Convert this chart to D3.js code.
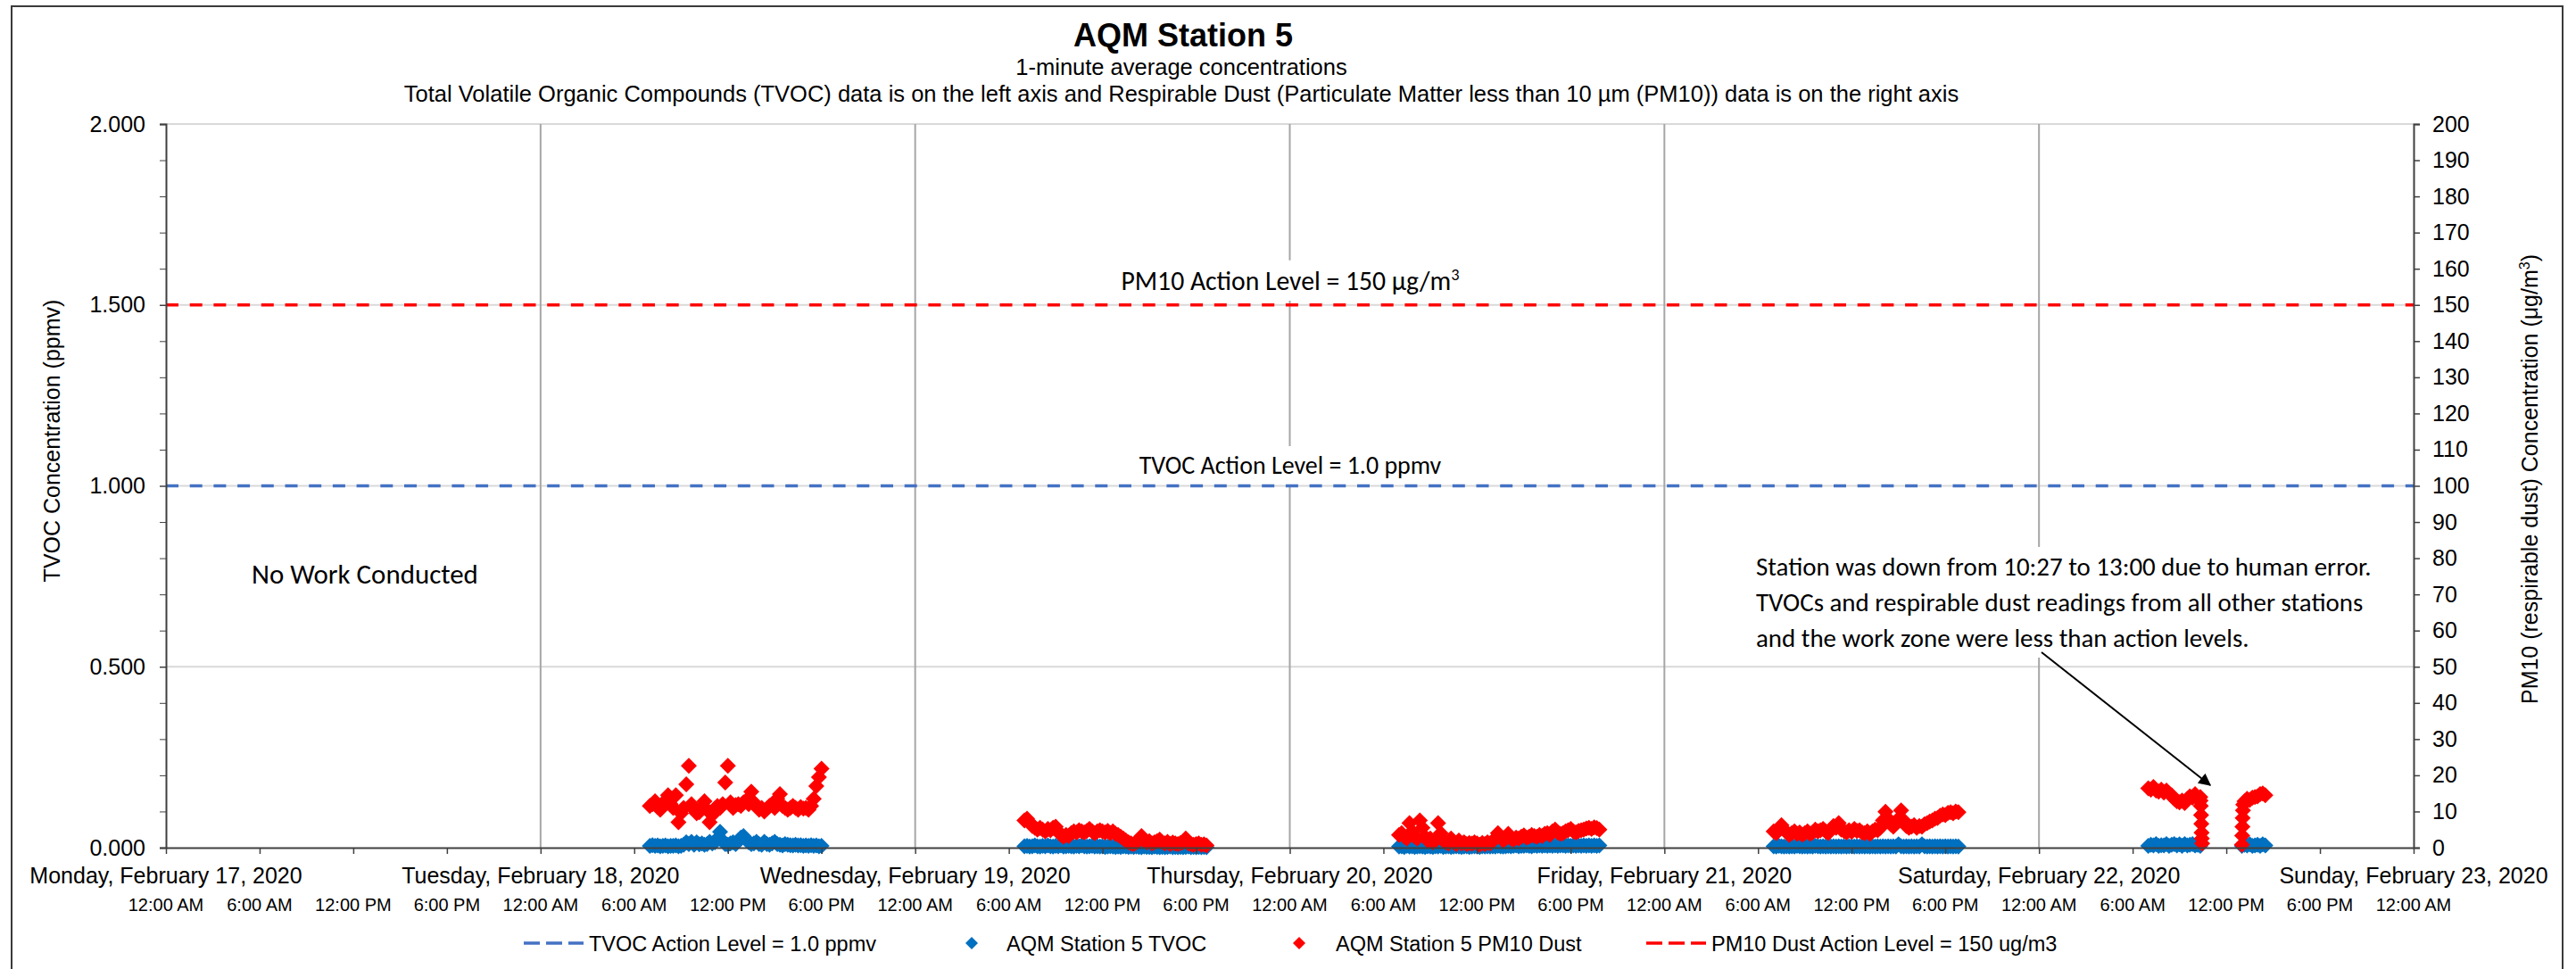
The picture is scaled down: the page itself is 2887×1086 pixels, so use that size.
<!DOCTYPE html>
<html><head><meta charset="utf-8">
<script src="https://cdn.jsdelivr.net/npm/d3@7"></script>
<style>
body{margin:0;background:#fff}
svg{display:block}
text{font-family:"Liberation Sans",Arial,sans-serif;fill:#000}
.note{font-family:Carlito,Calibri,Lato,"Open Sans",sans-serif}
</style>
</head><body>
<svg id="c" width="2887" height="1086"></svg>
<script>
// ---------------- DATA ----------------
const chartTitle = "AQM Station 5";
const subTitle1 = "1-minute average concentrations";
const subTitle2 = "Total Volatile Organic Compounds (TVOC) data is on the left axis and Respirable Dust (Particulate Matter less than 10 µm (PM10)) data is on the right axis";
const xStart = "2020-02-17T00:00", xEnd = "2020-02-23T00:00";
const dayLabels = ["Monday, February 17, 2020","Tuesday, February 18, 2020","Wednesday, February 19, 2020","Thursday, February 20, 2020","Friday, February 21, 2020","Saturday, February 22, 2020","Sunday, February 23, 2020"];
const hourLabels = ["12:00 AM","6:00 AM","12:00 PM","6:00 PM"];
const leftTicks = [0,0.5,1.0,1.5,2.0];
const leftMinorTicks = [0.1,0.2,0.3,0.4,0.6,0.7,0.8,0.9,1.1,1.2,1.3,1.4,1.6,1.7,1.8,1.9];
const rightTicks = [0,10,20,30,40,50,60,70,80,90,100,110,120,130,140,150,160,170,180,190,200];
const tvocActionLevel = 1.0;
const pm10ActionLevel = 150;
const legendLabels = ["TVOC Action Level = 1.0 ppmv","AQM Station 5 TVOC","AQM Station 5 PM10 Dust","PM10 Dust Action Level = 150 ug/m3"];

// PM10 (ug/m3), TVOC (ppmv) readings, sampled every `step` minutes from `start`
const pm10Feb18 = [11.5,12.0,12.8,11.2,10.5,11.8, 13.0,14.5,12.0,11.0,14.5,7.0, 9.5,11.0,17.5,22.6,12.0,10.5, 9.5,9.8,11.0,12.8,10.5,7.0,
  9.0,10.8,11.5,11.0,12.0,18.0, 22.6,12.5,11.0,11.8,12.0,11.5, 12.5,13.0,12.0,15.5,12.5,11.5, 10.5,11.0,10.0,10.8,11.5,12.0,
  11.0,13.5,14.8,11.5,11.0,10.5, 11.0,11.5,11.0,10.5,11.2,10.8, 11.0,10.5,11.5,13.5,17.0,19.5, 21.8];
const tvocFeb18 = [0.005,0.007,0.005,0.006,0.004,0.005, 0.006,0.004,0.005,0.005,0.006,0.004, 0.005,0.008,0.015,0.010,0.016,0.008,
  0.015,0.009,0.012,0.008,0.010,0.016, 0.012,0.015,0.025,0.044,0.020,0.010, 0.008,0.012,0.015,0.010,0.020,0.028,
  0.032,0.022,0.015,0.010,0.012,0.016, 0.010,0.008,0.016,0.010,0.008,0.012, 0.016,0.010,0.008,0.006,0.010,0.008,
  0.007,0.006,0.008,0.006,0.007,0.005, 0.006,0.005,0.007,0.005,0.006,0.004, 0.005];
const pm10Feb19 = [7.5,8.0,7.0,6.0,5.5,5.0, 5.5,5.0,4.5,5.2,4.8,5.5, 5.8,4.5,3.5,3.0,3.5,3.2, 4.0,4.5,4.2,4.8,4.5,4.2,
  4.6,5.2,4.5,4.0,4.5,4.8, 4.5,4.2,4.6,4.0,4.5,3.8, 3.5,3.0,2.5,2.0,1.5,1.2, 1.0,1.5,2.0,3.2,2.0,1.5,
  1.8,1.2,1.5,1.8,2.2,1.5, 1.2,1.6,1.0,1.4,1.2,1.0, 1.3,1.5,2.5,1.2,1.0,0.8, 1.0,1.2,0.8,0.9,0.6];
const tvocFeb19 = [0.004,0.005,0.003,0.004,0.006,0.004, 0.003,0.005,0.004,0.006,0.004,0.003, 0.005,0.004,0.006,0.003,0.004,0.005,
  0.004,0.003,0.005,0.004,0.006,0.004, 0.003,0.004,0.005,0.003,0.004,0.003, 0.004,0.002,0.003,0.004,0.003,0.002,
  0.003,0.002,0.004,0.003,0.002,0.003, 0.002,0.003,0.002,0.001,0.003,0.002, 0.002,0.001,0.003,0.002,0.001,0.002,
  0.001,0.002,0.003,0.001,0.002,0.001, 0.002,0.001,0.002,0.003,0.001,0.002, 0.001,0.002,0.001,0.002,0.001];
const pm10Feb20 = [3.5,4.0,3.0,2.5,6.8,4.5, 3.0,2.5,7.5,5.5,3.0,2.0, 2.5,1.5,2.0,6.8,4.0,2.0, 1.5,1.2,2.5,1.5,1.0,2.0,
  1.2,1.5,1.0,1.3,1.1,1.5, 1.2,0.8,1.3,1.0,1.5,1.2, 1.8,2.5,4.0,3.0,2.0,2.5, 3.8,2.5,2.2,2.8,2.5,3.0,
  3.4,2.8,3.0,3.5,3.2,3.0, 3.5,3.2,3.8,4.0,3.5,4.5, 5.0,4.2,3.8,4.0,4.5,4.8, 5.2,4.5,4.2,4.6,4.8,5.0,
  5.3,5.5,5.2,5.6,5.4,5.0];
const tvocFeb20 = [0.003,0.004,0.002,0.005,0.003,0.004, 0.002,0.003,0.004,0.003,0.002,0.004, 0.003,0.002,0.004,0.003,0.005,0.002,
  0.003,0.004,0.002,0.003,0.004,0.003, 0.002,0.003,0.004,0.002,0.003,0.004, 0.003,0.002,0.004,0.003,0.004,0.003,
  0.004,0.003,0.005,0.004,0.003,0.004, 0.005,0.004,0.005,0.006,0.004,0.005, 0.005,0.006,0.005,0.004,0.006,0.005,
  0.006,0.005,0.006,0.005,0.006,0.005, 0.006,0.005,0.006,0.006,0.005,0.006, 0.005,0.006,0.005,0.006,0.005,0.006,
  0.005,0.006,0.005,0.006,0.005,0.006];
const pm10Feb21 = [4.5,4.0,5.0,6.2,5.0,4.2, 3.5,4.0,4.5,3.8,4.2,3.6, 4.0,4.5,3.8,4.2,5.0,4.5, 4.8,5.2,4.5,4.0,5.0,6.0,
  5.5,6.8,5.0,4.6,4.2,4.8, 4.4,5.2,4.6,4.8,4.2,4.0, 4.5,3.8,4.5,5.0,4.8,5.5, 7.5,9.9,8.0,6.5,5.8,7.0,
  8.0,10.3,7.5,6.0,5.5,5.8, 6.2,5.5,6.0,5.8,6.5,6.8, 7.2,7.5,8.0,8.2,8.8,9.2, 9.0,9.6,9.8,9.5,10.0,9.8];
const tvocFeb21 = [0.004,0.003,0.005,0.004,0.003,0.004, 0.003,0.004,0.003,0.005,0.004,0.003, 0.004,0.003,0.004,0.003,0.005,0.004,
  0.003,0.004,0.003,0.004,0.003,0.004, 0.003,0.004,0.003,0.004,0.003,0.004, 0.004,0.003,0.004,0.003,0.004,0.003,
  0.004,0.003,0.004,0.003,0.004,0.003, 0.004,0.003,0.004,0.003,0.004,0.003, 0.009,0.004,0.003,0.004,0.003,0.004,
  0.003,0.004,0.003,0.009,0.004,0.003, 0.004,0.003,0.004,0.003,0.004,0.003, 0.004,0.003,0.004,0.003,0.004,0.003];
const pm10Feb22a = [16.4,16.0,16.8,15.8,15.5,16.0, 15.2,15.8,15.0,14.5,13.5,12.8, 12.5,13.0,12.3,13.5,14.2,13.8, 14.8,13.5];
const pm10Feb22drop = [14.0,13.0,11.5,9.0,6.6,4.1,2.5,1.2];
const pm10Feb22rise = [0.8,3.3,5.8,8.2,10.3,11.9];
const pm10Feb22b = [12.8,13.5,13.2,13.8,14.0,14.2,14.8,15.0,14.5];
const tvocFeb22a = [0.005,0.008,0.006,0.010,0.005,0.007, 0.006,0.010,0.005,0.008,0.010,0.006, 0.009,0.005,0.010,0.006,0.008,0.010, 0.006,0.008,0.005];
const tvocFeb22b = [0.005,0.008,0.006,0.009,0.005,0.006,0.008,0.005,0.009,0.006];

const pm10Segments = [
  {start:"2020-02-18T07:00", step:10, values:pm10Feb18},
  {start:"2020-02-19T07:00", step:10, values:pm10Feb19},
  {start:"2020-02-20T07:00", step:10, values:pm10Feb20},
  {start:"2020-02-21T07:00", step:10, values:pm10Feb21},
  {start:"2020-02-22T07:00", step:10, values:pm10Feb22a},
  {start:"2020-02-22T10:20", step:1,  values:pm10Feb22drop},
  {start:"2020-02-22T13:00", step:1,  values:pm10Feb22rise},
  {start:"2020-02-22T13:10", step:10, values:pm10Feb22b}
];
const tvocSegments = [
  {start:"2020-02-18T07:00", step:10, values:tvocFeb18},
  {start:"2020-02-19T07:00", step:10, values:tvocFeb19},
  {start:"2020-02-20T07:00", step:10, values:tvocFeb20},
  {start:"2020-02-21T07:00", step:10, values:tvocFeb21},
  {start:"2020-02-22T07:00", step:10, values:tvocFeb22a},
  {start:"2020-02-22T13:00", step:10, values:tvocFeb22b}
];

// ---------------- CHART ----------------
const parse = d3.utcParse("%Y-%m-%dT%H:%M");
const toPoints = segs => segs.flatMap(s => {
  const t0 = parse(s.start).getTime();
  return s.values.map((v,i) => ({t:new Date(t0 + i*s.step*60000), v}));
});
const pm10Pts = toPoints(pm10Segments);
const tvocPts = toPoints(tvocSegments);

const svg = d3.select("#c");
const L = 186, R = 2705, T = 139, B = 950;
const x = d3.scaleUtc().domain([parse(xStart), parse(xEnd)]).range([L, R]);
const yL = d3.scaleLinear().domain([0,2]).range([B, T]);
const yR = d3.scaleLinear().domain([0,200]).range([B, T]);

// outer frame
svg.append("rect").attr("x",13).attr("y",7).attr("width",2859).attr("height",1120)
  .attr("fill","none").attr("stroke","#3a3a3a").attr("stroke-width",2);

// horizontal gridlines
svg.append("g").selectAll("line").data(leftTicks.filter(d=>d>0)).join("line")
  .attr("x1",L).attr("x2",R).attr("y1",d=>yL(d)).attr("y2",d=>yL(d))
  .attr("stroke","#d9d9d9").attr("stroke-width",2);
// vertical day gridlines
const dayTimes = d3.utcDay.range(parse(xStart), new Date(parse(xEnd).getTime()+1));
svg.append("g").selectAll("line").data(dayTimes.slice(1,-1)).join("line")
  .attr("x1",d=>x(d)).attr("x2",d=>x(d)).attr("y1",T).attr("y2",B)
  .attr("stroke","#a6a6a6").attr("stroke-width",2);

// annotations with white boxes
const noteG = svg.append("g");
function boxedText(g, lines, xPos, yTop, anchor, lh, fs, fitWidth){
  const grp = g.append("g");
  const txt = grp.append("text").attr("class","note").attr("font-size",fs).attr("text-anchor",anchor);
  lines.forEach((ln,i)=>{
    const ts = txt.append("tspan").attr("x",xPos).attr("y",yTop + i*lh);
    if (typeof ln === "string") ts.text(ln);
    else { ts.text(ln[0]); txt.append("tspan").attr("class","sup").attr("dy",-fs*0.38).text(ln[1]); }
  });
  if (fitWidth) {
    const w = txt.node().getBBox().width;
    fs = fs * fitWidth / w;
    txt.attr("font-size",fs);
  }
  txt.selectAll(".sup").attr("font-size",fs*0.62).attr("dy",-fs*0.38);
  const bb = txt.node().getBBox();
  grp.insert("rect","text").attr("x",bb.x-8).attr("y",bb.y-4).attr("width",bb.width+16).attr("height",bb.height+8).attr("fill","#fff");
  return grp;
}
boxedText(noteG, [["PM10 Action Level = 150 μg/m","3"]], 1446, 325, "middle", 40, 28, 385);
boxedText(noteG, ["TVOC Action Level = 1.0 ppmv"], 1446, 531, "middle", 40, 28, 339);
boxedText(noteG, ["No Work Conducted"], 282, 654, "start", 40, 28, 254);
boxedText(noteG, ["Station was down from 10:27 to 13:00 due to human error.",
  "TVOCs and respirable dust readings from all other stations",
  "and the work zone were less than action levels."], 1968, 645, "start", 40, 28, 690);

// arrow
svg.append("defs").append("marker").attr("id","ah").attr("viewBox","0 0 10 10").attr("refX",9).attr("refY",5)
  .attr("markerWidth",7).attr("markerHeight",7).attr("markerUnits","strokeWidth").attr("orient","auto")
  .append("path").attr("d","M0,0 L10,5 L0,10 Z").attr("fill","#000");
svg.append("line").attr("x1",2288).attr("y1",731).attr("x2",2477).attr("y2",880)
  .attr("stroke","#000").attr("stroke-width",2).attr("marker-end","url(#ah)");

// data markers
const diamond = "M0,-9L9,0L0,9L-9,0Z";
svg.append("g").selectAll("path").data(tvocPts).join("path")
  .attr("d",diamond).attr("transform",d=>`translate(${x(d.t)},${yL(d.v)})`).attr("fill","#0070C0");
svg.append("g").selectAll("path").data(pm10Pts).join("path")
  .attr("d",diamond).attr("transform",d=>`translate(${x(d.t)},${yR(d.v)})`).attr("fill","#FF0000");

// action level lines
svg.append("line").attr("x1",L).attr("x2",R).attr("y1",yL(tvocActionLevel)).attr("y2",yL(tvocActionLevel))
  .attr("stroke","#4472C4").attr("stroke-width",3.5).attr("stroke-dasharray","14,12.7");
svg.append("line").attr("x1",L).attr("x2",R).attr("y1",yR(pm10ActionLevel)).attr("y2",yR(pm10ActionLevel))
  .attr("stroke","#FF0000").attr("stroke-width",3.5).attr("stroke-dasharray","14,12.7");

// axes
const axL = svg.append("g").attr("transform",`translate(${L},0)`)
  .call(d3.axisLeft(yL).tickValues(leftTicks).tickFormat(d3.format(".3f")).tickSize(7).tickPadding(16));
svg.append("g").attr("transform",`translate(${L},0)`)
  .call(d3.axisLeft(yL).tickValues(leftMinorTicks).tickFormat("").tickSize(7)).select(".domain").remove();
const axR = svg.append("g").attr("transform",`translate(${R},0)`)
  .call(d3.axisRight(yR).tickValues(rightTicks).tickFormat(d3.format("d")).tickSize(7).tickPadding(14));
const axB = svg.append("g").attr("transform",`translate(0,${B})`)
  .call(d3.axisBottom(x).ticks(d3.utcHour.every(6)).tickFormat("").tickSize(7).tickSizeOuter(0));
[axL,axR,axB].forEach(a=>{
  a.selectAll(".domain").attr("stroke","#404040").attr("stroke-width",2);
  a.selectAll(".tick line").attr("stroke","#404040").attr("stroke-width",1.5);
  a.selectAll("text").attr("font-size",25).attr("font-family","'Liberation Sans',Arial,sans-serif").attr("fill","#000");
});
svg.selectAll("g.tick line").attr("stroke","#404040");

// x labels: days and hours
svg.append("g").selectAll("text").data(dayTimes).join("text")
  .attr("x",d=>x(d)).attr("y",990).attr("text-anchor","middle").attr("font-size",25)
  .text((d,i)=>dayLabels[i]);
const hourTimes = d3.utcHour.every(6).range(parse(xStart), new Date(parse(xEnd).getTime()+1));
svg.append("g").selectAll("text").data(hourTimes).join("text")
  .attr("x",d=>x(d)).attr("y",1021).attr("text-anchor","middle").attr("font-size",20)
  .text(d=>hourLabels[d.getUTCHours()/6]);

// titles
svg.append("text").attr("x",1326).attr("y",52).attr("text-anchor","middle").attr("font-size",36).attr("font-weight","bold").text(chartTitle);
svg.append("text").attr("x",1324).attr("y",84).attr("text-anchor","middle").attr("font-size",25.5).text(subTitle1);
svg.append("text").attr("x",1324).attr("y",114).attr("text-anchor","middle").attr("font-size",25.5).text(subTitle2);

// axis titles
svg.append("text").attr("transform",`translate(67,494) rotate(-90)`).attr("text-anchor","middle").attr("font-size",25)
  .text("TVOC Concentration (ppmv)");
const rt = svg.append("text").attr("transform",`translate(2844,537) rotate(-90)`).attr("text-anchor","middle").attr("font-size",25);
rt.append("tspan").text("PM10 (respirable dust) Concentration (μg/m");
rt.append("tspan").attr("font-size",16).attr("dy",-9).text("3");
rt.append("tspan").attr("dy",9).text(")");

// legend
const ly = 1057;
const lg = svg.append("g");
lg.append("line").attr("x1",587).attr("x2",654).attr("y1",ly).attr("y2",ly).attr("stroke","#4472C4").attr("stroke-width",3.5).attr("stroke-dasharray","18,7");
lg.append("text").attr("x",660).attr("y",ly+8.5).attr("font-size",23.5).text(legendLabels[0]);
lg.append("path").attr("d","M0,-7L7,0L0,7L-7,0Z").attr("transform",`translate(1089,${ly})`).attr("fill","#0070C0");
lg.append("text").attr("x",1128).attr("y",ly+8.5).attr("font-size",23.5).text(legendLabels[1]);
lg.append("path").attr("d","M0,-7L7,0L0,7L-7,0Z").attr("transform",`translate(1456,${ly})`).attr("fill","#FF0000");
lg.append("text").attr("x",1497).attr("y",ly+8.5).attr("font-size",23.5).text(legendLabels[2]);
lg.append("line").attr("x1",1845).attr("x2",1912).attr("y1",ly).attr("y2",ly).attr("stroke","#FF0000").attr("stroke-width",3.5).attr("stroke-dasharray","18,7");
lg.append("text").attr("x",1918).attr("y",ly+8.5).attr("font-size",23.5).text(legendLabels[3]);
</script>
</body></html>
